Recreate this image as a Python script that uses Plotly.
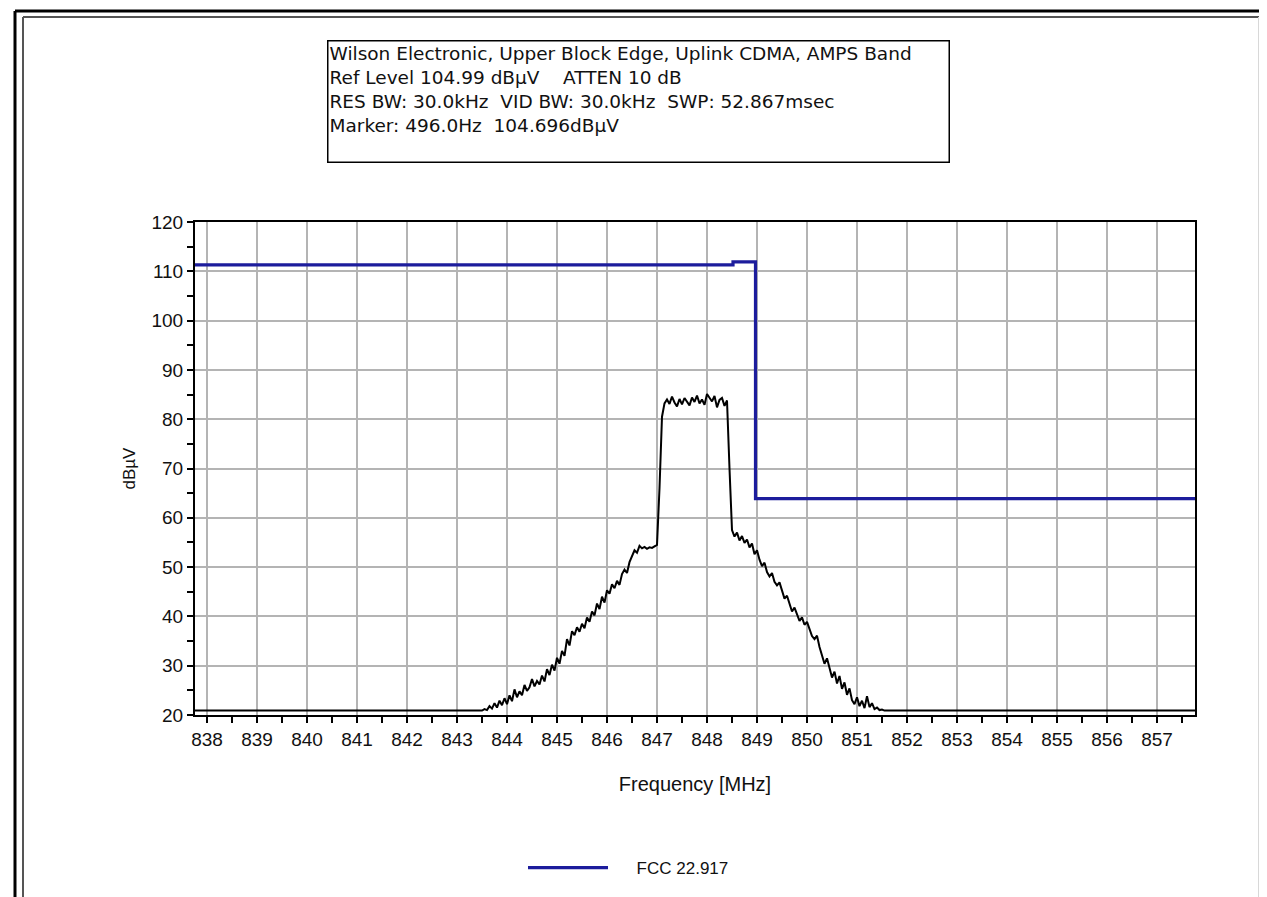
import plotly.graph_objects as go

# ---- data ----
# FCC 22.917 emission mask (MHz, dBuV)
mask_freq = [837.76, 848.52, 848.52, 848.97, 848.97, 857.76]
mask_level = [111.3, 111.3, 111.9, 111.9, 63.9, 63.9]

# measured spectrum (MHz, dBuV); the floor sits under the display bottom
spec_freq = [
    837.76, 843.50, 843.55, 843.60, 843.65, 843.70, 843.75, 843.80, 843.85, 843.90, 843.95,
    844.00, 844.05, 844.10, 844.15, 844.20, 844.25, 844.30, 844.35, 844.40, 844.45,
    844.50, 844.55, 844.60, 844.65, 844.70, 844.75, 844.80, 844.85, 844.90, 844.95,
    845.00, 845.05, 845.10, 845.15, 845.20, 845.25, 845.30, 845.35, 845.40, 845.45,
    845.50, 845.55, 845.60, 845.65, 845.70, 845.75, 845.80, 845.85, 845.90, 845.95,
    846.00, 846.05, 846.10, 846.15, 846.20, 846.25, 846.30, 846.35, 846.40, 846.45,
    846.50, 846.55, 846.60, 846.65, 846.70, 846.75, 846.80, 846.85, 846.90, 846.95,
    847.00, 847.05, 847.10, 847.15, 847.20, 847.25, 847.30, 847.35, 847.40, 847.45,
    847.50, 847.55, 847.60, 847.65, 847.70, 847.75, 847.80, 847.85, 847.90, 847.95,
    848.00, 848.05, 848.10, 848.15, 848.20, 848.25, 848.30, 848.35, 848.40, 848.45,
    848.50, 848.55, 848.60, 848.65, 848.70, 848.75, 848.80, 848.85, 848.90, 848.95,
    849.00, 849.05, 849.10, 849.15, 849.20, 849.25, 849.30, 849.35, 849.40, 849.45,
    849.50, 849.55, 849.60, 849.65, 849.70, 849.75, 849.80, 849.85, 849.90, 849.95,
    850.00, 850.05, 850.10, 850.15, 850.20, 850.25, 850.30, 850.35, 850.40, 850.45,
    850.50, 850.55, 850.60, 850.65, 850.70, 850.75, 850.80, 850.85, 850.90, 850.95,
    851.00, 851.05, 851.10, 851.15, 851.20, 851.25, 851.30, 851.35, 851.40, 851.45,
    851.50, 851.55, 857.76,
]
spec_level = [
    20.9, 20.9, 21.2, 21.0, 21.8, 21.3, 22.4, 21.5, 22.9, 22.0, 23.4,
    22.2, 24.0, 22.8, 25.2, 23.6, 24.8, 24.0, 26.1, 24.9, 25.6,
    27.3, 25.8, 26.9, 26.2, 28.0, 26.8, 29.3, 28.1, 30.2, 29.0,
    31.6, 30.4, 33.0, 32.0, 35.4, 34.1, 37.0, 36.2, 37.8, 36.9,
    38.5, 37.6, 39.8, 38.9, 41.0, 40.2, 42.6, 41.5, 44.0, 42.8,
    45.3, 44.6, 46.5, 45.7, 47.2, 46.4, 48.6, 49.5, 48.8, 51.0,
    52.2, 53.4, 52.9, 54.3, 53.8, 54.1, 53.7, 54.0, 53.9, 54.2,
    54.5, 66.0, 80.5, 83.2, 84.0, 83.1, 84.6, 83.4, 82.6, 84.1,
    83.0, 84.3, 83.6, 82.8, 84.4, 83.5, 84.8, 83.2, 84.0, 82.9,
    85.1, 84.2, 83.6, 84.7, 82.4, 83.9, 84.3, 82.7, 83.8, 70.0,
    57.5, 56.2, 57.0, 55.4, 56.3, 54.9, 55.6, 54.0, 54.8, 52.6,
    53.4, 51.5, 50.2, 50.9, 49.0, 48.1, 48.8, 47.0, 46.3, 46.9,
    45.0, 43.6, 44.2, 42.4, 41.0, 41.8, 40.2, 39.1, 39.8, 38.3,
    38.9, 37.2, 36.0, 35.4, 36.1, 33.8, 32.0, 30.4, 31.5, 29.2,
    27.6, 28.8, 26.4, 27.9, 25.3, 26.6, 24.1, 25.4, 23.0, 22.2,
    23.6, 21.8, 22.9, 21.4, 23.8, 21.6, 22.4, 21.2, 21.5, 21.0,
    21.1, 20.9, 20.9,
]

header_lines = [
    "Wilson Electronic, Upper Block Edge, Uplink CDMA, AMPS Band",
    "Ref Level 104.99 dB\u00b5V\u00a0\u00a0\u00a0\u00a0ATTEN 10 dB",
    "RES BW: 30.0kHz\u00a0\u00a0VID BW: 30.0kHz\u00a0\u00a0SWP: 52.867msec",
    "Marker: 496.0Hz\u00a0\u00a0104.696dB\u00b5V",
]

# ---- page geometry (pixels) ----
W, H = 1267, 897
L, R, T, B = 187, 1187, 214, 707
FONT = "Arial, 'Liberation Sans', sans-serif"


def px(x):
    return (x - L) / (R - L)


def py(y):
    return (B - y) / (B - T)


fig = go.Figure()

fig.add_trace(go.Scatter(
    x=spec_freq, y=spec_level, mode="lines",
    line=dict(color="black", width=2),
    showlegend=False, hoverinfo="skip",
))
fig.add_trace(go.Scatter(
    x=mask_freq, y=mask_level, mode="lines",
    name="\u00a0\u00a0\u00a0\u00a0\u00a0FCC 22.917",
    line=dict(color="#1c1c9c", width=3.2),
))

fig.update_layout(
    width=W, height=H,
    margin=dict(l=L, r=W - R, t=T, b=H - B),
    paper_bgcolor="white", plot_bgcolor="white",
    font=dict(family=FONT, size=19, color="#111111"),
    showlegend=True,
    legend=dict(
        orientation="h", x=px(515), xanchor="left", y=py(860), yanchor="middle",
        itemwidth=80, font=dict(size=17), bgcolor="rgba(0,0,0,0)",
    ),
)

fig.update_xaxes(
    range=[837.76, 857.76], tick0=838, dtick=1,
    showgrid=True, gridcolor="#b4b4b4", gridwidth=1.5,
    showline=True, linecolor="black", linewidth=2, mirror=True,
    ticks="outside", ticklen=6, tickcolor="black", tickwidth=1.5,
    minor=dict(dtick=0.5, ticks="outside", ticklen=6, tickcolor="black", showgrid=False),
    tickfont=dict(size=19),
    title=dict(text="Frequency [MHz]", font=dict(size=20), standoff=28),
    zeroline=False,
)
fig.update_yaxes(
    range=[20, 120], tick0=20, dtick=10,
    showgrid=True, gridcolor="#b4b4b4", gridwidth=1.5,
    showline=True, linecolor="black", linewidth=2, mirror=True,
    ticks="outside", ticklen=6, tickcolor="black", tickwidth=1.5,
    minor=dict(dtick=5, ticks="outside", ticklen=6, tickcolor="black", showgrid=False),
    tickfont=dict(size=19),
    title=dict(text="dB\u00b5V", font=dict(size=17), standoff=12),
    zeroline=False,
)

# header box with the analyzer settings
fig.add_annotation(
    text="<br>".join(header_lines),
    xref="paper", yref="paper", x=px(319), y=py(32),
    xanchor="left", yanchor="top", align="left", valign="top",
    showarrow=False,
    font=dict(family="'DejaVu Sans', Verdana, sans-serif", size=18.5, color="#111111"),
    width=618, height=118, bgcolor="white",
    bordercolor="black", borderwidth=1.5, borderpad=1,
)

# window frames around the whole picture
frame = dict(xref="paper", yref="paper", layer="above")
fig.add_shape(type="line", x0=px(7), x1=px(7), y0=py(3), y1=py(H + 5),
              line=dict(color="black", width=3), **frame)
fig.add_shape(type="line", x0=px(7), x1=px(1259), y0=py(3), y1=py(3),
              line=dict(color="black", width=3), **frame)
fig.add_shape(type="line", x0=px(1259), x1=px(1259), y0=py(3), y1=py(H + 5),
              line=dict(color="black", width=3), **frame)
fig.add_shape(type="line", x0=px(15), x1=px(15), y0=py(9), y1=py(890),
              line=dict(color="#555555", width=2), **frame)
fig.add_shape(type="line", x0=px(15), x1=px(1251), y0=py(9), y1=py(9),
              line=dict(color="#555555", width=2), **frame)
fig.add_shape(type="line", x0=px(1251), x1=px(1251), y0=py(9), y1=py(890),
              line=dict(color="#d8d8d8", width=2), **frame)
fig.add_shape(type="line", x0=px(15), x1=px(1251), y0=py(890), y1=py(890),
              line=dict(color="#d8d8d8", width=2), **frame)

fig.write_html("out.html")
